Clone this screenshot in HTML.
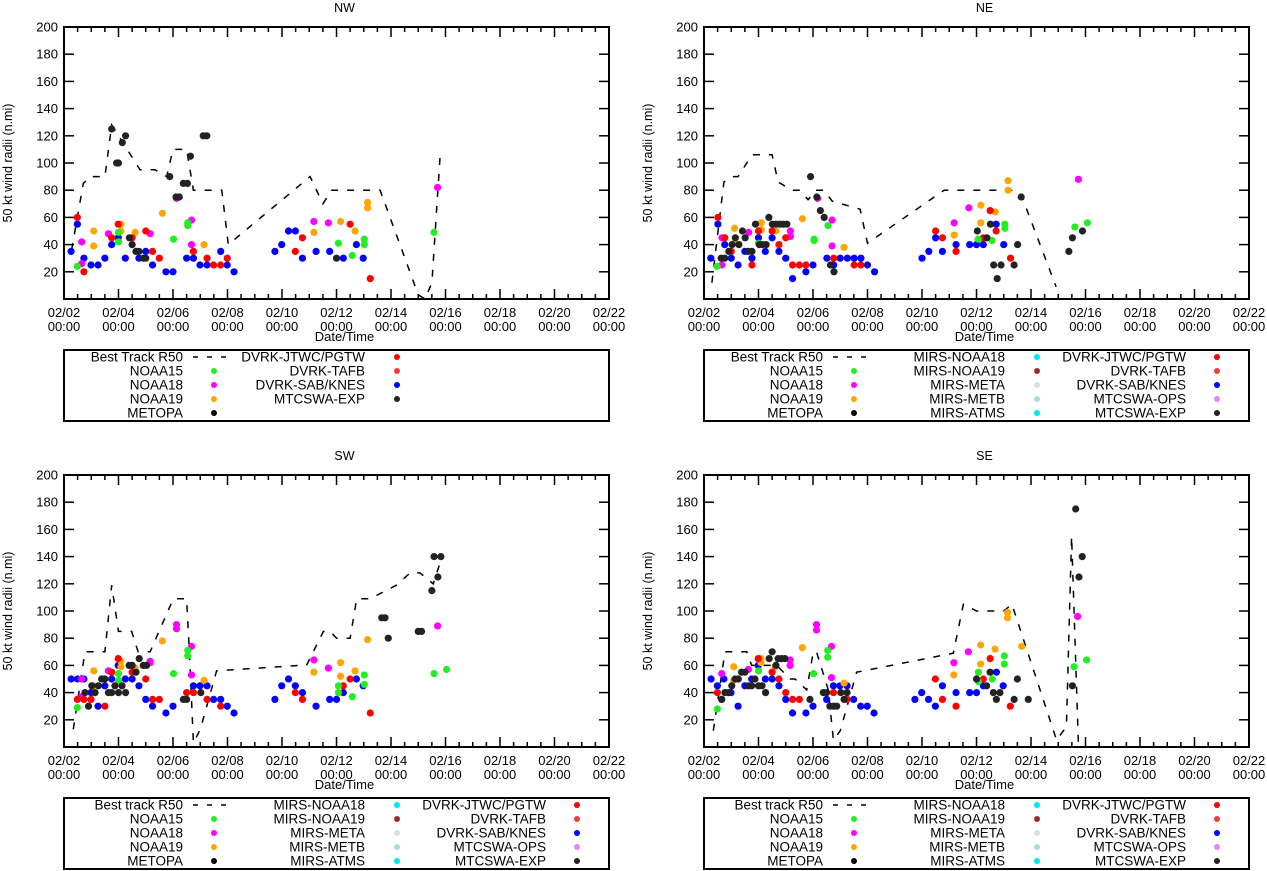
<!DOCTYPE html>
<html><head><meta charset="utf-8">
<style>
html,body{margin:0;padding:0;background:#fff;}
svg{display:block;font-family:"Liberation Sans",sans-serif;}
</style></head>
<body>
<svg id="chart" width="1267" height="871" viewBox="0 0 1267 871" xmlns="http://www.w3.org/2000/svg"></svg>
<script>
// ---------- shared axis data ----------
const xTickLabels = ["02/02","02/04","02/06","02/08","02/10","02/12","02/14","02/16","02/18","02/20","02/22"];
const yTicks = [20,40,60,80,100,120,140,160,180,200];

// ---------- NW ----------
const nwTrack = [[0.28,36],[0.71,85],[0.95,90],[1.5,90],[1.75,128],[2.79,95],[3.34,95],[3.77,90],[4.0,110],[4.5,110],[4.75,80],[5.79,80],[6.03,40],[9.03,90],[9.5,70],[9.82,80],[11.6,80],[13.0,3],[13.25,0],[13.5,12],[13.8,105],[14.05,105]];
const nwBlue = [[0.26,35],[0.49,55],[0.73,30],[0.99,25],[1.25,25],[1.5,30],[1.75,40],[1.99,45],[2.25,30],[2.75,30],[3.0,35],[3.25,25],[3.74,20],[4.0,20],[4.5,30],[4.75,30],[4.99,25],[5.25,25],[5.75,35],[5.99,25],[6.24,20],[7.74,35],[7.99,40],[8.24,50],[8.49,50],[8.75,30],[9.25,35],[9.75,35],[10.25,30],[10.73,40],[10.98,30]];
const nwRed = [[0.49,60],[0.73,20],[1.75,45],[1.99,55],[2.5,45],[3.0,50],[3.25,35],[3.5,30],[4.75,35],[5.25,30],[5.49,25],[5.75,25],[5.99,30],[8.49,35],[8.75,45],[10.5,55],[11.24,15]];
const nwGreen = [[0.49,24],[2.0,42],[2.0,49],[4.02,44],[4.54,56],[4.54,54],[10.07,41],[10.58,32],[11.02,44],[11.02,40],[13.58,49]];
const nwMagenta = [[0.65,26],[0.65,42],[1.63,48],[3.16,48],[4.68,58],[4.68,40],[4.13,74],[9.17,57],[9.7,56],[13.71,82]];
const nwOrange = [[1.09,50],[1.09,39],[2.09,55],[2.09,50],[2.61,49],[3.61,63],[5.14,40],[9.17,49],[10.15,57],[10.68,50],[11.14,71],[11.14,67]];
const nwBlack = [[1.75,125],[1.93,100],[2.0,100],[2.14,115],[2.26,120],[2.4,45],[2.5,40],[2.64,35],[2.75,35],[2.91,30],[3.0,30],[3.88,90],[4.11,75],[4.23,75],[4.38,85],[4.53,85],[4.64,105],[5.11,120],[5.24,120],[10.0,30]];

// ---------- NE ----------
const neTrack = [[0.29,12],[0.73,86],[1.03,90],[1.25,90],[1.76,106],[2.5,106],[2.72,86],[3.23,80],[3.52,80],[3.82,73],[4.11,80],[4.41,80],[4.7,72],[5.73,66],[6.0,41],[8.81,80],[11.45,80],[11.67,75],[12.92,9]];
const neBlue = [[0.25,30],[0.51,55],[0.76,40],[1.0,30],[1.25,25],[1.5,35],[1.76,30],[2.0,45],[2.25,35],[2.5,45],[2.75,35],[3.0,30],[3.25,15],[3.74,20],[4.0,25],[4.51,30],[4.76,25],[5.0,30],[5.26,30],[5.51,30],[5.76,30],[6.0,25],[6.26,20],[8.0,30],[8.25,35],[8.5,45],[8.75,35],[9.25,40],[9.75,40],[10.0,40],[10.25,40],[10.72,55],[11.0,40]];
const neRed = [[0.51,60],[0.76,45],[1.0,35],[1.76,25],[2.0,50],[2.5,50],[2.75,40],[3.0,45],[3.25,25],[3.5,25],[3.74,25],[5.51,25],[5.76,25],[8.5,50],[8.75,45],[9.25,35],[10.5,65],[10.25,45],[10.72,50],[11.25,30],[4.76,30]];
const neGreen = [[0.48,24],[2.0,41],[4.04,44],[4.04,43],[4.55,54],[10.06,44],[10.57,43],[11.04,55],[11.04,52],[13.61,53],[14.07,56]];
const neMagenta = [[0.66,25],[0.66,45],[1.64,49],[3.17,50],[3.17,46],[4.17,74],[4.7,58],[4.7,39],[9.18,56],[9.72,67],[13.74,88]];
const neOrange = [[1.12,52],[1.12,41],[2.1,56],[2.1,51],[2.64,50],[3.61,59],[5.14,38],[9.18,47],[10.16,69],[10.16,56],[10.69,64],[11.16,87],[11.16,80]];
const neBlack = [[0.63,30],[0.76,30],[0.91,35],[1.03,40],[1.15,45],[1.28,40],[1.41,50],[1.51,45],[1.62,35],[1.76,35],[1.89,55],[2.03,40],[2.14,40],[2.28,40],[2.38,60],[2.51,55],[2.64,55],[2.78,55],[2.91,55],[3.04,55],[3.91,90],[4.14,75],[4.27,65],[4.41,60],[4.64,25],[4.77,20],[10.03,50],[10.38,45],[10.51,55],[10.63,25],[10.76,15],[10.9,25],[11.38,25],[11.51,40],[11.64,75],[13.39,35],[13.52,45],[13.89,50]];

// ---------- SW ----------
const swTrack = [[0.34,13],[0.77,70],[1.5,70],[1.75,119],[2.0,85],[2.48,85],[2.72,70],[3.16,70],[4.01,109],[4.5,109],[4.62,62],[4.75,3],[5.0,13],[5.6,56],[8.66,60],[8.9,60],[9.52,85],[9.76,85],[10.0,80],[10.5,80],[10.74,109],[11.23,109],[12.2,119],[12.7,128],[13.06,128],[13.55,120],[13.86,139]];
const swBlue = [[0.26,50],[0.49,50],[0.73,50],[0.99,40],[1.25,30],[1.5,45],[1.75,50],[1.99,60],[2.25,50],[2.5,50],[2.75,45],[3.0,35],[3.25,30],[3.74,25],[4.0,30],[4.75,45],[4.99,45],[5.25,45],[5.49,35],[5.75,35],[5.99,30],[6.24,25],[7.74,35],[7.99,45],[8.24,50],[8.49,45],[8.75,40],[9.25,30],[9.75,35],[10.0,35],[10.25,40],[10.73,50],[10.98,45]];
const swRed = [[0.49,35],[0.73,35],[0.99,35],[1.5,30],[1.75,55],[1.99,65],[2.5,55],[3.0,50],[3.25,35],[3.5,35],[4.5,40],[4.75,40],[5.25,35],[5.75,30],[8.49,40],[8.75,35],[10.25,45],[10.5,50],[11.24,25]];
const swGreen = [[0.49,29],[2.0,54],[2.0,49],[4.02,54],[4.54,71],[4.54,67],[10.07,45],[10.07,40],[10.58,37],[11.02,53],[11.02,46],[13.58,54],[14.04,57]];
const swMagenta = [[0.65,50],[0.65,37],[1.63,56],[3.16,63],[3.16,62],[4.13,90],[4.13,87],[4.68,74],[4.68,53],[9.17,64],[9.7,58],[13.71,89]];
const swOrange = [[1.09,56],[1.09,45],[2.09,63],[2.09,59],[2.61,58],[3.61,78],[5.14,49],[9.17,55],[10.15,62],[10.15,52],[10.68,56],[11.14,79]];
const swBlack = [[0.77,40],[0.9,30],[1.02,45],[1.14,40],[1.26,45],[1.38,50],[1.5,50],[1.63,40],[1.75,40],[1.87,45],[2.0,40],[2.13,45],[2.26,40],[2.39,60],[2.5,60],[2.64,55],[2.76,65],[2.91,60],[3.03,60],[4.38,35],[4.5,35],[5.02,40],[11.66,95],[11.78,95],[11.9,80],[13.0,85],[13.12,85],[13.5,115],[13.72,125],[13.58,140],[13.83,140]];

// ---------- SE ----------
const seTrack = [[0.34,12],[0.77,70],[1.57,70],[1.75,60],[2.67,60],[3.16,50],[3.34,50],[3.77,42],[4.01,70],[4.13,70],[4.56,42],[4.75,5],[5.0,12],[5.6,55],[9.15,69],[9.52,105],[10.0,100],[11.0,100],[11.3,105],[12.94,5],[13.3,15],[13.49,155],[13.74,2]];
const seBlue = [[0.26,50],[0.49,45],[0.73,50],[0.99,40],[1.25,30],[1.5,45],[1.75,50],[1.99,60],[2.25,50],[2.5,50],[2.75,45],[3.0,35],[3.25,25],[3.74,25],[4.0,30],[4.5,35],[4.75,45],[4.99,45],[5.25,45],[5.49,35],[5.75,30],[5.99,30],[6.24,25],[7.74,35],[7.99,40],[8.24,35],[8.49,30],[8.75,45],[9.25,40],[9.75,40],[10.0,40],[10.25,45],[10.73,55],[10.98,45]];
const seRed = [[0.49,40],[1.99,65],[2.5,55],[2.75,50],[3.0,40],[3.25,35],[3.5,35],[4.75,40],[5.25,35],[8.49,50],[8.75,35],[9.25,30],[10.25,50],[10.5,65],[11.24,30]];
const seGreen = [[0.49,28],[2.0,56],[4.02,54],[4.54,71],[4.54,66],[10.07,55],[10.07,48],[10.58,50],[11.02,67],[11.02,61],[13.58,59],[14.04,64]];
const seMagenta = [[0.65,54],[0.65,35],[1.63,57],[3.16,64],[3.16,60],[4.13,90],[4.13,86],[4.68,74],[4.68,51],[9.17,62],[9.7,70],[13.71,96]];
const seOrange = [[1.09,59],[1.09,49],[2.09,65],[2.09,62],[2.61,59],[3.61,73],[5.14,47],[9.17,53],[10.15,75],[10.15,61],[10.68,72],[11.14,99],[11.14,95],[11.66,74]];
const seBlack = [[0.65,35],[0.77,40],[0.9,40],[1.02,45],[1.14,50],[1.26,50],[1.38,55],[1.5,55],[1.63,45],[1.75,45],[1.87,50],[2.0,45],[2.13,45],[2.26,40],[2.39,65],[2.5,70],[2.64,60],[2.72,65],[2.85,65],[2.97,65],[3.89,35],[4.38,40],[4.5,40],[4.62,30],[4.75,30],[4.87,30],[5.02,40],[5.14,35],[5.25,40],[10.0,50],[10.37,45],[10.5,55],[10.62,40],[10.73,35],[10.86,40],[11.38,35],[11.5,50],[11.9,35],[13.52,45],[13.64,175],[13.76,125],[13.88,140]];

// ---------- legends ----------
const legendNW = [["Best Track R50","dash"],["NOAA15","#22ee22"],["NOAA18","#ff00ff"],["NOAA19","#ffa500"],["METOPA","#000000"],["DVRK-JTWC/PGTW","#ff0000"],["DVRK-TAFB","#ee3b3b"],["DVRK-SAB/KNES","#0000ff"],["MTCSWA-EXP","#222222"]];
const legendFull = [["NOAA15","#22ee22"],["NOAA18","#ff00ff"],["NOAA19","#ffa500"],["METOPA","#000000"],["MIRS-NOAA18","#00e5ee"],["MIRS-NOAA19","#a52a2a"],["MIRS-META","#dddddd"],["MIRS-METB","#add8e6"],["MIRS-ATMS","#00e5ee"],["DVRK-JTWC/PGTW","#ff0000"],["DVRK-TAFB","#ee3b3b"],["DVRK-SAB/KNES","#0000ff"],["MTCSWA-OPS","#ee82ee"],["MTCSWA-EXP","#222222"]];

const svg = document.getElementById('chart');
const NS = 'http://www.w3.org/2000/svg';
function mk(tag, attrs, parent){
  const e = document.createElementNS(NS, tag);
  for (const k in attrs) e.setAttribute(k, attrs[k]);
  (parent||svg).appendChild(e);
  return e;
}

function drawPanel(key, title, ox, oy, track, series, legendItems){
  const g = mk('g', {});
  
  
  const L = 64 + ox, R = 609 + ox, T = 27 + oy, B = 299 + oy;
  const xs = d => L + d * (R - L) / 20;
  const ys = v => B - v * (B - T) / 200;

  const t = mk('text', {x:(L+R)/2+8, y:12+oy, 'text-anchor':'middle', 'font-size':12.5}, g);
  t.textContent = title;
  
  

  yTicks.forEach(v => {
    const y = ys(v);
    mk('line', {x1:L, x2:L+10, y1:y, y2:y, stroke:'#000', 'stroke-width':1.5}, g);
    mk('line', {x1:R, x2:R-10, y1:y, y2:y, stroke:'#000', 'stroke-width':1.5}, g);
    const lb = mk('text', {x:L-6, y:y+4.5, 'text-anchor':'end', 'font-size':13}, g);
    lb.textContent = v;
    
    
  });
  for (let i = 0; i <= 40; i++) {
    const d = i * 0.5, x = xs(d);
    const major = i % 4 === 0;
    const len = major ? 10 : 5;
    mk('line', {x1:x, x2:x, y1:B, y2:B-len, stroke:'#000', 'stroke-width':1.5}, g);
    mk('line', {x1:x, x2:x, y1:T, y2:T+len, stroke:'#000', 'stroke-width':1.5}, g);
  }
  xTickLabels.forEach((lab, i) => {
    const x = xs(i * 2);
    const a = mk('text', {x:x, y:B+18, 'text-anchor':'middle', 'font-size':13}, g);
    a.textContent = lab;
    
    
    const b = mk('text', {x:x, y:B+32, 'text-anchor':'middle', 'font-size':13}, g);
    b.textContent = '00:00';
    
    
  });
  const xt = mk('text', {x:(L+R)/2+8, y:B+42, 'text-anchor':'middle', 'font-size':13}, g);
  xt.textContent = 'Date/Time';
  
  
  const yt = mk('text', {x:0, y:0, 'text-anchor':'middle', 'font-size':12.5, transform:'translate('+(ox+12)+','+((T+B)/2)+') rotate(-90)'}, g);
  yt.textContent = '50 kt wind radii (n.mi)';
  
  

  const cp = mk('clipPath', {id:'clip-'+key}, g);
  mk('rect', {x:L, y:T, width:R-L, height:B-T}, cp);
  const plot = mk('g', {'clip-path':'url(#clip-'+key+')'}, g);

  const pts = track.map(p => xs(p[0]).toFixed(1) + ',' + ys(p[1]).toFixed(1)).join(' ');
  const pl = mk('polyline', {points:pts, fill:'none', stroke:'#000', 'stroke-width':1.5, 'stroke-dasharray':'7,9'}, plot);
  
  

  series.forEach(s => {
    s.data.forEach(p => {
      const c = mk('circle', {cx:xs(p[0]), cy:ys(p[1]), r:3.6, fill:s.color}, plot);
      
      
    });
  });

  const fr = mk('rect', {x:L, y:T, width:R-L, height:B-T, fill:'none', stroke:'#000', 'stroke-width':2}, g);
  
  

  const lg = mk('g', {}, g);
  
  
  mk('rect', {x:L, y:350+oy, width:R-L, height:71, fill:'none', stroke:'#000', 'stroke-width':2}, lg);
  const colText = [183, 365, 546], colMark = [214, 397, 577];
  legendItems.forEach((it, i) => {
    const col = Math.floor(i / 5), row = i % 5;
    const y = 357 + row * 14 + oy;
    const tx = mk('text', {x:ox+colText[col], y:y+4.5, 'text-anchor':'end', 'font-size':13.5}, lg);
    tx.textContent = it[0];
    
    
    if (it[1] === 'dash') {
      mk('line', {x1:ox+193, x2:ox+230, y1:y, y2:y, stroke:'#000', 'stroke-width':1.5, 'stroke-dasharray':'5,9'}, lg);
    } else {
      mk('circle', {cx:ox+colMark[col], cy:y, r:3, fill:it[1]}, lg);
    }
  });
}

function mkSeries(b, r, gr, m, o, k){
  return [
    {name:'dvrk-sab-knes', color:'#0000ff', data:b},
    {name:'noaa18', color:'#ff00ff', data:m},
    {name:'noaa19', color:'#ffa500', data:o},
    {name:'dvrk-jtwc', color:'#ff0000', data:r},
    {name:'noaa15', color:'#22ee22', data:gr},
    {name:'mtcswa-exp', color:'#222222', data:k}
  ];
}

drawPanel('nw', 'NW', 0, 0, nwTrack, mkSeries(nwBlue,nwRed,nwGreen,nwMagenta,nwOrange,nwBlack), legendNW);
drawPanel('ne', 'NE', 640, 0, neTrack, mkSeries(neBlue,neRed,neGreen,neMagenta,neOrange,neBlack), [["Best Track R50","dash"]].concat(legendFull));
drawPanel('sw', 'SW', 0, 448, swTrack, mkSeries(swBlue,swRed,swGreen,swMagenta,swOrange,swBlack), [["Best track R50","dash"]].concat(legendFull));
drawPanel('se', 'SE', 640, 448, seTrack, mkSeries(seBlue,seRed,seGreen,seMagenta,seOrange,seBlack), [["Best track R50","dash"]].concat(legendFull));
</script>
</body></html>
